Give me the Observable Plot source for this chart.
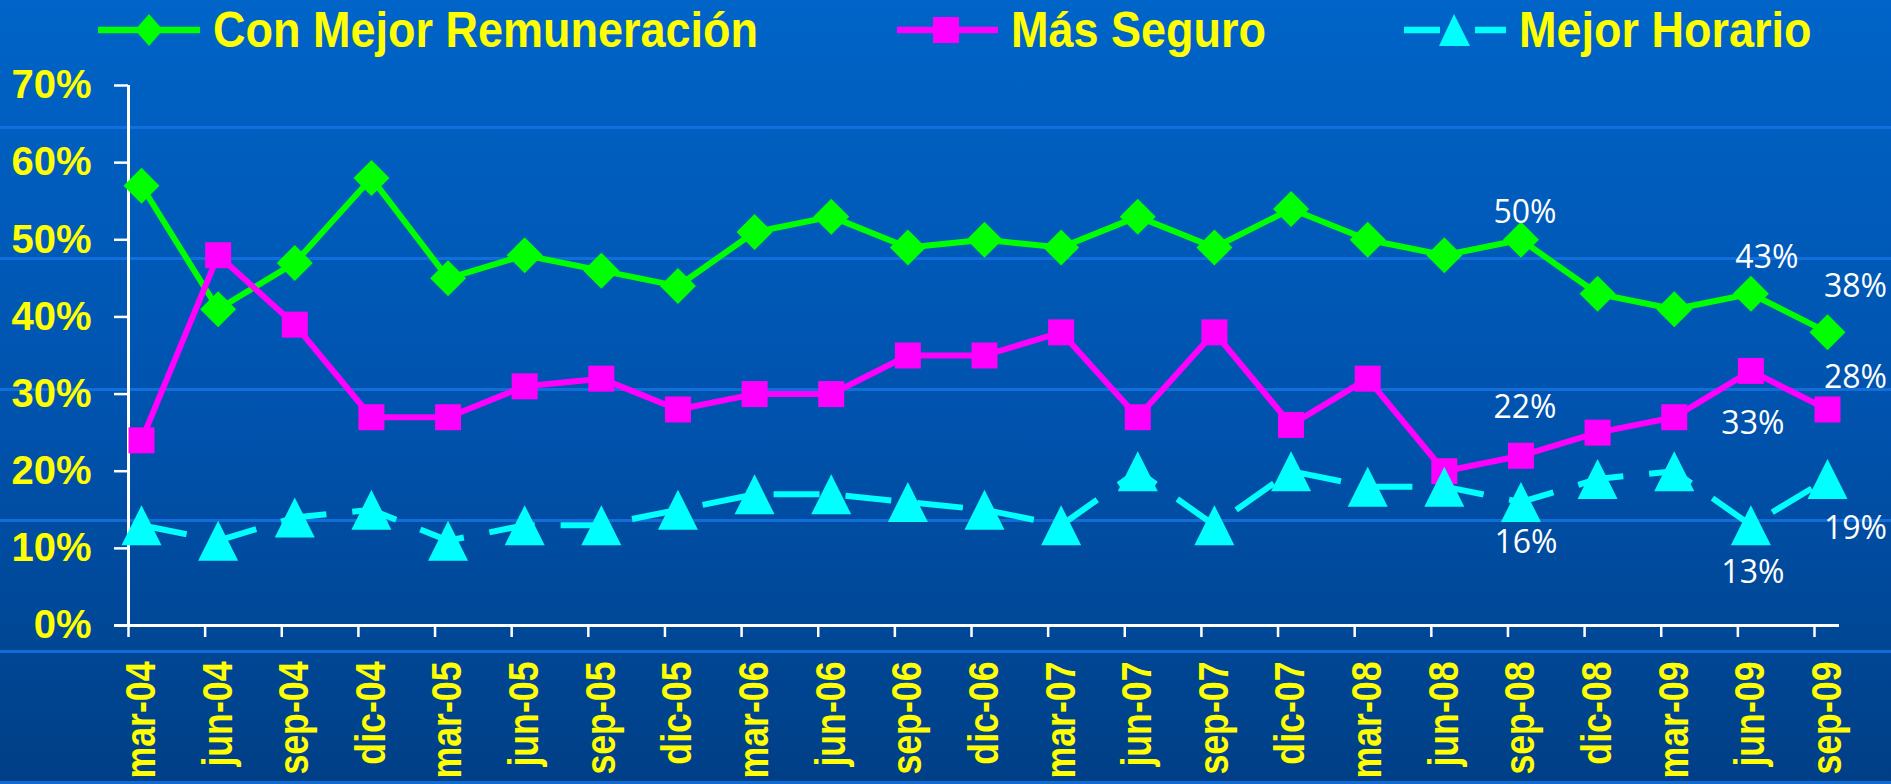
<!DOCTYPE html>
<html>
<head>
<meta charset="utf-8">
<script src="https://cdn.jsdelivr.net/npm/d3@7"></script>
<script src="https://cdn.jsdelivr.net/npm/@observablehq/plot@0.6"></script>
<style>
html, body { margin: 0; padding: 0; }
body {
  width: 1891px; height: 784px; overflow: hidden;
  background:
    repeating-linear-gradient(to bottom, transparent 0px, transparent 126px, rgba(20,115,225,0.85) 126px, rgba(20,115,225,0.85) 129px, transparent 129px, transparent 131px),
    linear-gradient(to bottom, #0064C8 0%, #0052AC 55%, #003F86 100%);
  font-family: "Liberation Sans", Arial, sans-serif;
}
#legend { height: 62px; position: relative; }
#legend svg { position: absolute; left: 0; top: 0; }
#chart svg { display: block; }
</style>
</head>
<body>
<div id="legend">
<svg width="1891" height="62" xmlns="http://www.w3.org/2000/svg">
  <line x1="98" x2="200" y1="30" y2="30" stroke="#00FF00" stroke-width="6.5"/>
  <path d="M149,14 L163,30 L149,46 L135,30 Z" fill="#00FF00"/>
  <text transform="translate(213,47) scale(1,1.1)" font-family="Liberation Sans, Arial, sans-serif" font-weight="bold" font-size="45" fill="#FFFF00">Con Mejor Remuneración</text>

  <line x1="897" x2="998" y1="30" y2="30" stroke="#FF00FF" stroke-width="6.5"/>
  <rect x="933" y="17" width="26" height="26" fill="#FF00FF"/>
  <text transform="translate(1011,47) scale(1,1.1)" font-family="Liberation Sans, Arial, sans-serif" font-weight="bold" font-size="45" fill="#FFFF00">Más Seguro</text>

  <line x1="1404" x2="1440" y1="30" y2="30" stroke="#00FFFF" stroke-width="6.5"/>
  <line x1="1475" x2="1506" y1="30" y2="30" stroke="#00FFFF" stroke-width="6.5"/>
  <path d="M1454,14 L1470,46 L1439,46 Z" fill="#00FFFF"/>
  <text transform="translate(1519,47) scale(1,1.1)" font-family="Liberation Sans, Arial, sans-serif" font-weight="bold" font-size="45" fill="#FFFF00">Mejor Horario</text>
</svg>
</div>
<div id="chart"></div>
<script>
// ---- data ----
const categories = ["mar-04","jun-04","sep-04","dic-04","mar-05","jun-05","sep-05","dic-05",
  "mar-06","jun-06","sep-06","dic-06","mar-07","jun-07","sep-07","dic-07",
  "mar-08","jun-08","sep-08","dic-08","mar-09","jun-09","sep-09"];
const remuneracion = [57,41,47,58,45,48,46,44,51,53,49,50,49,53,49,54,50,48,50,43,41,43,38];
const seguro       = [24,48,39,27,27,31,32,28,30,30,35,35,38,27,38,26,32,20,22,25,27,33,28];
const horario      = [13,11,14,15,11,13,13,15,17,17,16,15,13,20,13,20,18,18,16,19,20,13,19];
const yTicks = [0,10,20,30,40,50,60,70];

const toRows = vals => categories.map((c, i) => ({cat: c, v: vals[i]}));
const gRows = toRows(remuneracion), mRows = toRows(seguro), cRows = toRows(horario);

// custom marker shapes: r = half size in px
const diamond = {draw(ctx, size) { const r = Math.sqrt(size / Math.PI);
  ctx.moveTo(0, -r); ctx.lineTo(r, 0); ctx.lineTo(0, r); ctx.lineTo(-r, 0); ctx.closePath(); }};
const square = {draw(ctx, size) { const r = Math.sqrt(size / Math.PI);
  ctx.moveTo(-r, -r); ctx.lineTo(r, -r); ctx.lineTo(r, r); ctx.lineTo(-r, r); ctx.closePath(); }};
const triangle = {draw(ctx, size) { const r = Math.sqrt(size / Math.PI);
  ctx.moveTo(0, -r); ctx.lineTo(r, r); ctx.lineTo(-r, r); ctx.closePath(); }};

const axisFontY = {fontFamily: "Liberation Sans, Arial, sans-serif", fontWeight: "bold", fontSize: 40};
const axisFontX = {fontFamily: "Liberation Sans, Arial, sans-serif", fontWeight: "bold", fontSize: 42};
const lblFont = {fontFamily: "Open Sans, Noto Sans, sans-serif", fontSize: 32, fill: "white", lineAnchor: "bottom", textAnchor: "middle"};

function label(vals, i, dx, dy) {
  return Plot.text([i], {x: d => categories[d], y: d => vals[d], text: d => vals[d] + "%", dx, dy, ...lblFont});
}

const chart = Plot.plot({
  width: 1891,
  height: 722,
  marginLeft: 141,
  marginRight: 64,
  marginTop: 23,
  marginBottom: 159,
  style: {background: "transparent", overflow: "visible"},
  x: {type: "point", domain: categories, padding: 0, round: false, axis: null},
  y: {domain: [0, 70], axis: null},
  marks: [
    // axes
    Plot.axisY({ticks: yTicks, tickFormat: d => d + "%", tickSize: 14, tickPadding: 23, dx: -13,
      stroke: "white", strokeWidth: 2.5, fill: "#FFFF00", label: null, ...axisFontY}),
    Plot.ruleX([categories[0]], {y1: 0, y2: 70, dx: -13, stroke: "white", strokeWidth: 3}),
    Plot.axisX({tickSize: 12, tickFormat: () => "", dx: -13, stroke: "white", strokeWidth: 2.5, label: null}),
    Plot.axisX({tickSize: 0, tickPadding: 36, tickRotate: -90, fill: "#FFFF00", label: null, ...axisFontX}),
    Plot.ruleY([0], {insetLeft: -27, insetRight: -12, stroke: "white", strokeWidth: 3}),
    // series
    Plot.line(gRows, {x: "cat", y: "v", stroke: "#00FF00", strokeWidth: 6}),
    Plot.dot(gRows, {x: "cat", y: "v", symbol: diamond, r: 18, fill: "#00FF00"}),
    Plot.line(mRows, {x: "cat", y: "v", stroke: "#FF00FF", strokeWidth: 6}),
    Plot.dot(mRows, {x: "cat", y: "v", symbol: square, r: 13, fill: "#FF00FF"}),
    Plot.line(cRows, {x: "cat", y: "v", stroke: "#00FFFF", strokeWidth: 6, strokeDasharray: "46,26", strokeLinecap: "butt"}),
    Plot.dot(cRows, {x: "cat", y: "v", symbol: triangle, r: 20, fill: "#00FFFF"}),
    // data labels
    label(remuneracion, 18, 4, -17),
    label(remuneracion, 21, 16, -26),
    label(remuneracion, 22, 28, -35),
    label(seguro, 18, 4, -38),
    label(seguro, 21, 2, 63),
    label(seguro, 22, 28, -22),
    label(horario, 18, 5, 51),
    label(horario, 21, 2, 58),
    label(horario, 22, 28, 60)
  ]
});
// condense the rotated category labels (narrow bold look of the original)
chart.querySelectorAll('g[aria-label="x-axis tick label"] text').forEach(t => {
  const tr = t.getAttribute("transform") || "";
  t.setAttribute("transform", tr + " scale(0.85,1)");
});
document.getElementById("chart").appendChild(chart);
</script>
</body>
</html>
